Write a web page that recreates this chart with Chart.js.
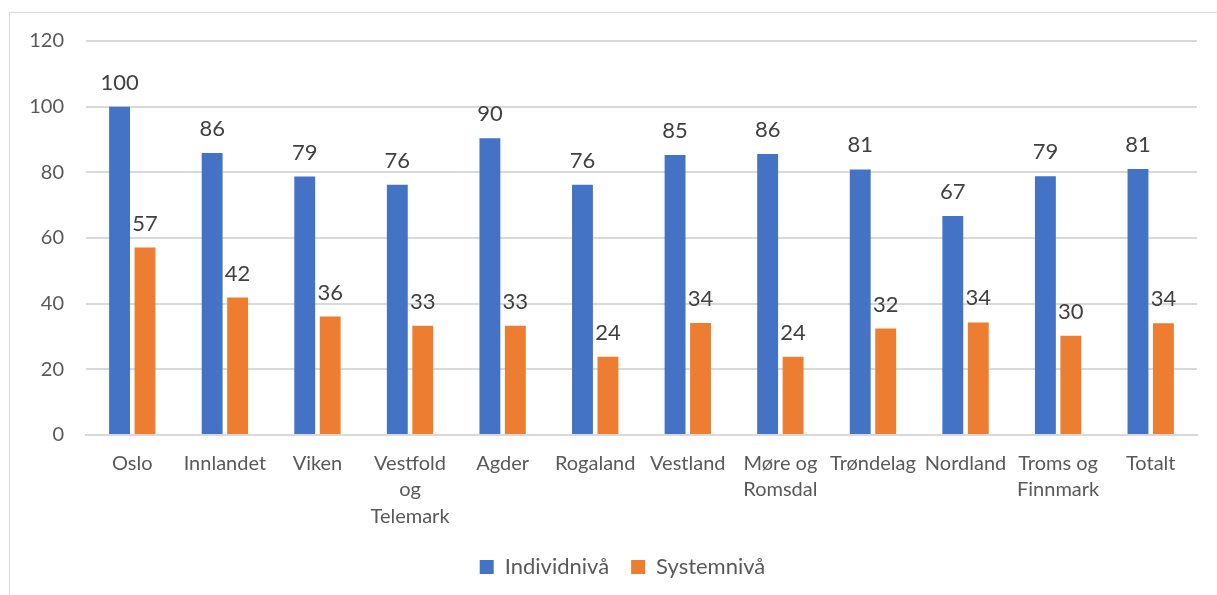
<!DOCTYPE html>
<html>
<head>
<meta charset="utf-8">
<script src="https://cdn.jsdelivr.net/npm/chart.js@4.4.1/dist/chart.umd.min.js"></script>
<style>
  html, body { margin: 0; padding: 0; background: #fff; overflow: hidden; }
  #wrap { position: relative; width: 1217px; height: 595px; }
  #frame { position: absolute; left: 9px; top: 12px; width: 1400px; height: 800px; border: 1px solid #d9d9d9; box-sizing: border-box; }
  #chart { position: absolute; left: 0; top: 0; }
</style>
</head>
<body>
<div id="wrap">
  <div id="frame"></div>
  <canvas id="chart" width="1217" height="595"></canvas>
</div>
<script>
// Catégories (régions)
var regions = ['Oslo', 'Innlandet', 'Viken', ['Vestfold', 'og', 'Telemark'], 'Agder', 'Rogaland', 'Vestland',
  ['Møre og', 'Romsdal'], 'Trøndelag', 'Nordland', ['Troms og', 'Finnmark'], 'Totalt'];

// Valeurs
var individniva = [100, 85.9, 78.7, 76.2, 90.4, 76.2, 85.3, 85.6, 80.9, 66.7, 78.8, 81];
var systemniva = [57.1, 41.9, 36.1, 33.3, 33.3, 23.8, 34.1, 23.8, 32.4, 34.3, 30.2, 34];

var yTicks = [0, 20, 40, 60, 80, 100, 120];

var colors = {
  blue: '#4472C4',
  orange: '#ED7D31',
  text: '#595959',
  label: '#404040',
  grid: '#d9d9d9'
};

Chart.defaults.font.family = 'Lato, "Open Sans", sans-serif';
Chart.defaults.color = colors.text;

// Étiquettes de valeur au-dessus des barres
var valueLabels = {
  id: 'valueLabels',
  afterLayout: function (chart) {
    // légende un peu décalée vers la droite, comme dans l'original
    chart.legend.left += 24;
    chart.legend.right += 24;
  },
  afterDatasetsDraw: function (chart) {
    var ctx = chart.ctx;
    ctx.save();
    ctx.font = '22px Lato, "Open Sans", sans-serif';
    ctx.fillStyle = colors.label;
    ctx.textAlign = 'center';
    ctx.textBaseline = 'bottom';
    chart.data.datasets.forEach(function (ds, i) {
      chart.getDatasetMeta(i).data.forEach(function (bar, j) {
        ctx.fillText(Math.round(ds.data[j]), bar.x, bar.y - 13);
      });
    });
    ctx.restore();
  }
};

var ctx = document.getElementById('chart').getContext('2d');
var chart = new Chart(ctx, {
  type: 'bar',
  data: {
    labels: regions,
    datasets: [{
      label: 'Individnivå',
      data: individniva,
      backgroundColor: colors.blue,
      categoryPercentage: 0.55,
      barPercentage: 0.82
    }, {
      label: 'Systemnivå',
      data: systemniva,
      backgroundColor: colors.orange,
      categoryPercentage: 0.55,
      barPercentage: 0.82
    }]
  },
  options: {
    responsive: false,
    animation: false,
    layout: {
      padding: { top: 41, right: 20, bottom: 7, left: 0 }
    },
    plugins: {
      legend: {
        position: 'bottom',
        labels: {
          boxWidth: 14,
          boxHeight: 14,
          padding: 22,
          color: colors.text,
          font: { size: 22 }
        }
      },
      tooltip: { enabled: false }
    },
    scales: {
      x: {
        grid: { display: false },
        border: { color: colors.grid, width: 2 },
        ticks: {
          autoSkip: false,
          maxRotation: 0,
          padding: 7,
          color: colors.text,
          font: { size: 20, lineHeight: 1.33 }
        },
        afterFit: function (scale) { scale.height = 99; }
      },
      y: {
        min: 0,
        max: 120,
        afterBuildTicks: function (scale) {
          scale.ticks = yTicks.map(function (v) { return { value: v }; });
        },
        grid: { color: colors.grid, lineWidth: 2, drawTicks: false },
        border: { display: false },
        ticks: {
          padding: 22,
          color: colors.text,
          font: { size: 20 }
        },
        afterFit: function (scale) { scale.width = 86; }
      }
    }
  },
  plugins: [valueLabels]
});
</script>
</body>
</html>
